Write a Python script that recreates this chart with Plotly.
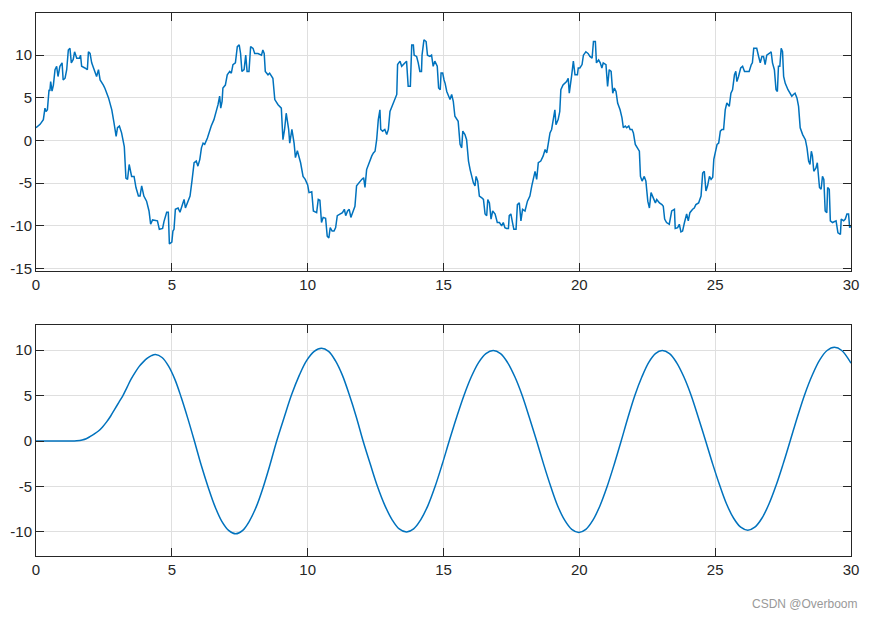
import plotly.graph_objects as go
from plotly.subplots import make_subplots

# ---- top: noisy signal ----
top_t = [0.0, 0.15, 0.27, 0.33, 0.37, 0.42, 0.48, 0.51, 0.54, 0.59, 0.64, 0.70, 0.76, 0.81, 0.88, 0.96,
         1.0, 1.07, 1.13, 1.19, 1.25, 1.30, 1.37, 1.42, 1.5, 1.6, 1.64, 1.68, 1.8, 1.89, 1.93, 1.99,
         2.05, 2.11, 2.23, 2.3, 2.36, 2.48, 2.54, 2.67, 2.79, 2.87, 2.95, 3.0, 3.07, 3.15, 3.25, 3.31,
         3.37, 3.43, 3.52, 3.61, 3.68, 3.77, 3.83, 3.89, 3.97, 4.07, 4.16, 4.22, 4.29, 4.47, 4.54, 4.66,
         4.71, 4.81, 4.87, 4.91, 5.0, 5.04, 5.08, 5.13, 5.23, 5.3, 5.38, 5.45, 5.5, 5.6, 5.67, 5.74,
         5.82, 5.9, 5.96, 6.03, 6.09, 6.15, 6.21, 6.31, 6.39, 6.45, 6.55, 6.64, 6.7, 6.76, 6.8, 6.85,
         6.88, 6.97, 7.04, 7.13, 7.19, 7.25, 7.34, 7.41, 7.48, 7.53, 7.58, 7.66, 7.72, 7.77, 7.84, 7.9,
         7.99, 8.05, 8.17, 8.3, 8.35, 8.4, 8.44, 8.54, 8.6, 8.72, 8.79, 8.91, 9.03, 9.09, 9.15, 9.21,
         9.3, 9.34, 9.42, 9.5, 9.55, 9.62, 9.74, 9.83, 9.91, 10.0, 10.05, 10.15, 10.21, 10.33, 10.39, 10.45,
         10.51, 10.57, 10.66, 10.72, 10.78, 10.83, 10.9, 10.97, 11.03, 11.09, 11.19, 11.28, 11.35, 11.4, 11.47, 11.53,
         11.59, 11.68, 11.74, 11.8, 11.89, 11.99, 12.06, 12.11, 12.17, 12.26, 12.36, 12.42, 12.48, 12.54, 12.6, 12.66,
         12.69, 12.76, 12.84, 12.91, 12.97, 13.03, 13.12, 13.22, 13.28, 13.31, 13.4, 13.46, 13.56, 13.64, 13.7, 13.78,
         13.83, 13.89, 13.92, 14.01, 14.07, 14.13, 14.19, 14.21, 14.28, 14.36, 14.41, 14.5, 14.56, 14.62, 14.68, 14.77,
         14.82, 14.88, 14.91, 14.97, 15.02, 15.06, 15.12, 15.18, 15.24, 15.3, 15.36, 15.42, 15.48, 15.54, 15.61, 15.67,
         15.71, 15.79, 15.85, 15.92, 15.98, 16.04, 16.1, 16.16, 16.2, 16.26, 16.32, 16.41, 16.47, 16.53, 16.59, 16.63,
         16.69, 16.75, 16.81, 16.9, 16.98, 17.06, 17.14, 17.2, 17.26, 17.32, 17.39, 17.42, 17.48, 17.54, 17.59, 17.67,
         17.72, 17.79, 17.85, 17.91, 18.0, 18.09, 18.18, 18.25, 18.31, 18.37, 18.43, 18.49, 18.58, 18.67, 18.74, 18.8,
         18.86, 18.92, 18.98, 19.04, 19.1, 19.14, 19.22, 19.28, 19.32, 19.4, 19.53, 19.59, 19.63, 19.72, 19.78, 19.84,
         19.93, 19.96, 20.02, 20.1, 20.15, 20.24, 20.32, 20.39, 20.47, 20.52, 20.59, 20.63, 20.71, 20.77, 20.83, 20.88,
         20.98, 21.04, 21.1, 21.17, 21.23, 21.29, 21.35, 21.41, 21.5, 21.57, 21.62, 21.69, 21.74, 21.82, 21.87, 21.94,
         21.99, 22.06, 22.15, 22.21, 22.25, 22.31, 22.39, 22.45, 22.52, 22.58, 22.64, 22.72, 22.8, 22.85, 22.95, 23.04,
         23.09, 23.14, 23.21, 23.31, 23.4, 23.5, 23.53, 23.62, 23.68, 23.74, 23.8, 23.87, 23.95, 24.01, 24.07, 24.17,
         24.23, 24.29, 24.39, 24.48, 24.54, 24.6, 24.66, 24.72, 24.79, 24.85, 24.91, 24.95, 25.01, 25.07, 25.13, 25.19,
         25.25, 25.31, 25.37, 25.43, 25.52, 25.58, 25.64, 25.71, 25.76, 25.8, 25.86, 25.94, 26.01, 26.08, 26.17, 26.25,
         26.33, 26.37, 26.42, 26.53, 26.6, 26.66, 26.72, 26.78, 26.84, 26.9, 26.99, 27.06, 27.11, 27.18, 27.24, 27.29,
         27.33, 27.38, 27.43, 27.48, 27.52, 27.58, 27.68, 27.76, 27.82, 27.88, 27.94, 28.01, 28.07, 28.13, 28.22, 28.32,
         28.38, 28.44, 28.49, 28.54, 28.58, 28.63, 28.71, 28.76, 28.8, 28.84, 28.9, 28.95, 29.0, 29.05, 29.11, 29.14,
         29.2, 29.24, 29.32, 29.45, 29.52, 29.61, 29.64, 29.73, 29.79, 29.85, 29.91, 29.95, 30.0]
top_v = [1.5, 1.9, 2.45, 3.8, 3.4, 3.6, 5.95, 5.8, 6.9, 5.8, 6.5, 8.3, 8.7, 7.5, 8.7, 9.1,
         7.1, 7.3, 8.3, 10.6, 10.8, 9.1, 9.5, 10.4, 9.65, 9.65, 10.0, 8.7, 8.5, 8.3, 10.4, 10.2,
         9.1, 8.5, 7.5, 8.3, 7.1, 6.5, 6.1, 5.0, 3.6, 2.1, 0.5, 1.5, 1.7, 0.9, -0.7, -4.4,
         -4.55, -2.8, -4.2, -4.2, -5.5, -6.5, -6.5, -5.3, -6.5, -7.1, -8.25, -9.8, -9.3, -9.4, -10.4, -10.3,
         -9.5, -8.4, -8.4, -12.1, -11.9, -10.6, -10.4, -8.05, -7.9, -8.4, -7.5, -6.9, -7.9, -7.1, -6.5, -4.75,
         -2.6, -2.4, -3.0, -2.2, -0.85, -0.3, -0.45, 0.3, 1.3, 1.7, 2.45, 3.4, 4.2, 5.2, 3.8, 4.6,
         6.15, 6.5, 7.7, 8.1, 7.9, 8.9, 9.1, 11.0, 11.2, 10.2, 8.1, 8.3, 10.0, 8.1, 8.1, 11.0,
         10.8, 10.2, 10.2, 10.0, 10.6, 10.2, 8.1, 7.7, 7.9, 7.3, 4.8, 4.2, 3.8, 0.1, 1.3, 3.2,
         1.3, -0.3, 1.3, -0.3, -2.0, -1.2, -2.6, -4.2, -4.55, -5.2, -6.1, -6.0, -8.25, -8.45, -6.9, -7.0,
         -9.6, -9.0, -9.1, -11.2, -11.4, -10.2, -10.6, -10.6, -10.2, -8.8, -8.6, -8.45, -8.05, -8.8, -8.25, -8.05,
         -9.0, -8.25, -7.7, -5.3, -4.9, -4.55, -4.35, -5.5, -3.4, -2.6, -1.8, -1.45, -1.25, 0.1, 2.45, 3.6,
         1.3, 1.1, 1.3, 0.7, 1.3, 3.4, 4.2, 5.0, 5.4, 8.9, 9.3, 8.7, 9.1, 9.3, 6.35, 6.35,
         11.2, 11.2, 10.0, 9.85, 9.1, 8.1, 8.1, 10.0, 11.8, 11.6, 10.0, 9.85, 10.0, 8.7, 9.3, 8.7,
         6.15, 5.95, 7.9, 7.9, 7.1, 6.7, 5.75, 5.2, 4.8, 5.4, 4.6, 2.85, 2.45, 2.25, -0.45, -0.85,
         1.1, 0.7, 0.1, -2.4, -3.4, -4.2, -4.95, -5.3, -4.2, -4.75, -6.5, -6.7, -6.9, -8.6, -8.8, -6.9,
         -7.3, -9.2, -8.25, -8.6, -9.6, -9.6, -10.0, -9.6, -10.2, -10.3, -10.3, -8.8, -8.6, -9.6, -10.4, -10.4,
         -7.5, -7.3, -9.4, -8.05, -8.25, -7.1, -6.5, -5.3, -4.2, -3.6, -4.55, -2.6, -2.4, -1.8, -1.05, -1.45,
         -0.3, 0.9, 1.3, 2.45, 3.6, 1.85, 2.45, 3.4, 5.95, 6.5, 6.9, 7.3, 5.55, 7.7, 9.3, 7.7,
         7.7, 8.5, 8.5, 8.9, 10.0, 10.4, 10.2, 9.85, 9.65, 11.6, 11.6, 9.1, 9.45, 9.1, 8.5, 9.1,
         8.9, 6.35, 8.3, 8.1, 5.55, 6.15, 5.75, 4.4, 3.6, 2.65, 1.5, 1.7, 1.5, 1.7, 1.3, 1.3,
         0.9, -0.45, -0.85, -1.25, -4.2, -4.75, -4.2, -4.75, -7.1, -7.9, -6.1, -6.7, -7.3, -6.9, -7.3, -7.5,
         -7.7, -9.2, -9.6, -9.8, -8.25, -8.05, -10.3, -10.2, -9.8, -10.7, -10.6, -9.6, -8.6, -9.4, -8.45, -8.05,
         -7.9, -7.5, -7.3, -6.5, -3.8, -3.6, -5.9, -5.3, -4.2, -4.55, -4.3, -2.2, -1.45, -0.45, -0.3, 1.1,
         1.3, 1.3, 3.6, 4.4, 4.0, 5.55, 5.95, 7.7, 8.1, 6.9, 7.5, 8.5, 8.7, 8.1, 8.1, 8.1,
         8.9, 9.1, 10.8, 10.8, 9.85, 9.1, 9.85, 9.85, 8.9, 10.0, 10.2, 10.4, 9.1, 8.3, 5.95, 5.75,
         8.7, 8.7, 10.8, 10.4, 7.5, 6.7, 5.95, 5.55, 5.2, 5.4, 5.55, 5.0, 4.0, 1.5, 0.7, 0.1,
         -0.85, -2.4, -2.8, -1.25, -1.8, -3.6, -3.2, -2.6, -3.8, -5.5, -5.7, -4.2, -4.55, -8.25, -8.45, -5.5,
         -5.7, -9.4, -9.6, -9.4, -10.8, -11.0, -9.2, -9.4, -9.2, -8.6, -8.6, -10.2, -10.0]

# ---- bottom: filtered smooth signal ----
bot_t = [0, 0.5, 1.0, 1.3, 1.5, 1.7, 1.85, 2.0, 2.15, 2.3, 2.45, 2.6, 2.75, 2.9, 3.05, 3.2, 3.35,
         3.5, 3.65, 3.8, 3.95, 4.1, 4.25, 4.4,
         4.64, 4.88, 5.12, 5.35, 5.59, 5.83,
         6.08, 6.34, 6.59, 6.84, 7.1, 7.35,
         7.6, 7.85, 8.11, 8.36, 8.61, 8.86,
         9.14, 9.41, 9.69, 9.96, 10.24, 10.51,
         10.77, 11.02, 11.28, 11.53, 11.79, 12.04,
         12.31, 12.57, 12.84, 13.11, 13.37, 13.64,
         13.9, 14.16, 14.43, 14.69, 14.95, 15.21,
         15.48, 15.75, 16.02, 16.29, 16.56, 16.83,
         17.1, 17.36, 17.63, 17.9, 18.16, 18.43,
         18.69, 18.95, 19.2, 19.46, 19.72, 19.98,
         20.24, 20.5, 20.76, 21.02, 21.28, 21.54,
         21.79, 22.04, 22.3, 22.55, 22.8, 23.05,
         23.32, 23.58, 23.85, 24.12, 24.38, 24.65,
         24.91, 25.17, 25.42, 25.68, 25.94, 26.2,
         26.46, 26.72, 26.98, 27.24, 27.5, 27.76,
         28.03, 28.3, 28.58, 28.85, 29.12, 29.39,
         29.66, 30.0]
bot_v = [0, 0, 0, 0.01, 0.04, 0.12, 0.25, 0.5, 0.78, 1.1, 1.55, 2.1, 2.75, 3.5, 4.25, 5.0, 5.9,
         6.8, 7.55, 8.2, 8.7, 9.1, 9.38, 9.5,
         9.18, 8.23, 6.72, 4.75, 2.46, 0,
         -2.64, -5.1, -7.21, -8.83, -9.85, -10.2,
         -9.85, -8.83, -7.21, -5.1, -2.64, 0,
         2.64, 5.1, 7.21, 8.83, 9.85, 10.2,
         9.85, 8.83, 7.21, 5.1, 2.64, 0,
         -2.59, -5.0, -7.07, -8.66, -9.66, -10.0,
         -9.66, -8.66, -7.07, -5.0, -2.59, 0,
         2.58, 4.98, 7.03, 8.62, 9.61, 9.95,
         9.61, 8.62, 7.03, 4.98, 2.58, 0,
         -2.6, -5.03, -7.11, -8.7, -9.71, -10.05,
         -9.71, -8.7, -7.11, -5.03, -2.6, 0,
         2.58, 4.98, 7.03, 8.62, 9.61, 9.95,
         9.61, 8.62, 7.03, 4.98, 2.58, 0,
         -2.54, -4.9, -6.93, -8.49, -9.47, -9.8,
         -9.47, -8.49, -6.93, -4.9, -2.54, 0,
         2.67, 5.15, 7.28, 8.92, 9.95, 10.3,
         9.95, 8.55]

x_ticks = [0, 5, 10, 15, 20, 25, 30]
x_labels = ["0", "5", "10", "15", "20", "25", "30"]
top_y_ticks = [-15, -10, -5, 0, 5, 10]
top_y_labels = ["-15", "-10", "-5", "0", "5", "10"]
bot_y_ticks = [-10, -5, 0, 5, 10]
bot_y_labels = ["-10", "-5", "0", "5", "10"]

LINE = "#0072BD"
AX = "#262626"
GRID = "#dfdfdf"
FONT = "Liberation Sans, Arial, sans-serif"

fig = make_subplots(rows=2, cols=1, vertical_spacing=0.1)
fig.add_trace(go.Scatter(x=top_t, y=top_v, mode="lines",
                         line=dict(color=LINE, width=1.5), showlegend=False), row=1, col=1)
fig.add_trace(go.Scatter(x=bot_t, y=bot_v, mode="lines",
                         line=dict(color=LINE, width=1.5, shape="spline", smoothing=1.0),
                         showlegend=False), row=2, col=1)

axcommon = dict(showline=True, linecolor=AX, linewidth=1, mirror="ticks",
                ticks="inside", ticklen=8, tickwidth=1, tickcolor=AX,
                showgrid=True, gridcolor=GRID, gridwidth=1, zeroline=False,
                automargin=False,
                tickfont=dict(family=FONT, size=15, color=AX))

fig.update_xaxes(range=[0, 30], tickvals=x_ticks, ticktext=x_labels, **axcommon)
fig.update_yaxes(**axcommon)
fig.update_yaxes(range=[-15.27, 14.94], tickvals=top_y_ticks, ticktext=top_y_labels, row=1, col=1)
fig.update_yaxes(range=[-12.64, 12.75], tickvals=bot_y_ticks, ticktext=bot_y_labels, row=2, col=1)

fig.update_layout(
    width=875, height=619,
    margin=dict(l=28, r=32, t=5, b=71, autoexpand=False),
    paper_bgcolor="white", plot_bgcolor="white",
    font=dict(family=FONT, size=15, color=AX),
    xaxis=dict(domain=[0, 1]),
    yaxis=dict(domain=[0.525, 1.0]),
    yaxis2=dict(domain=[0.0, 0.4254]),
    annotations=[dict(text="CSDN @Overboom", xref="paper", yref="paper",
                      x=1.011, y=-0.088, xanchor="right", yanchor="middle",
                      showarrow=False, font=dict(family=FONT, size=12, color="#999999"))],
)

fig.write_html("out.html")
